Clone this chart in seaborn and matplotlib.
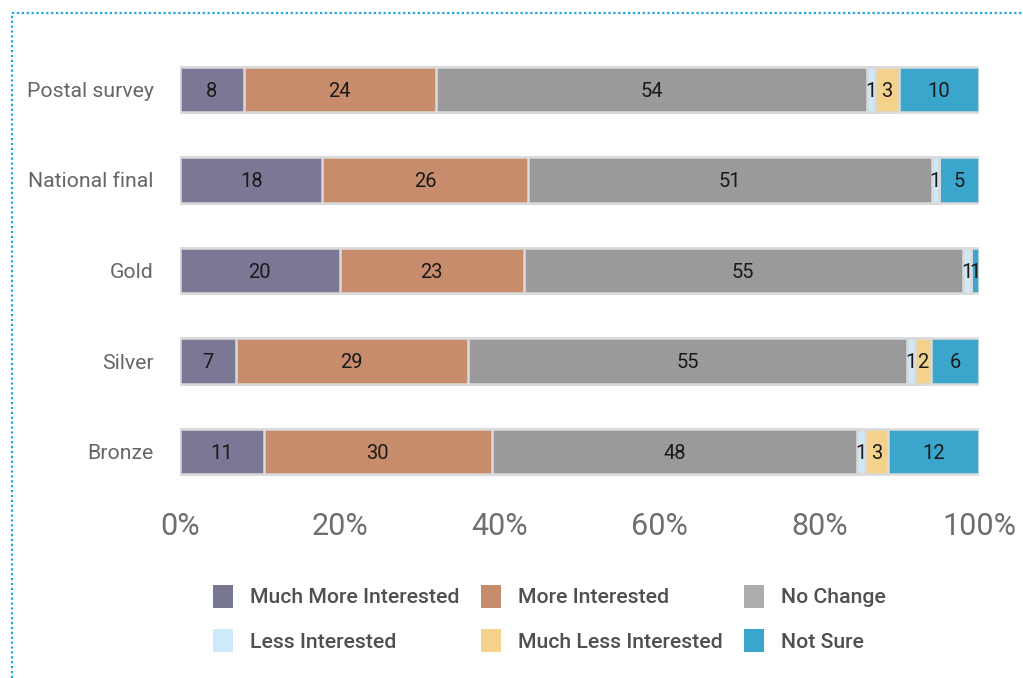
import numpy as np
import pandas as pd
import matplotlib
matplotlib.use("Agg")
import matplotlib.pyplot as plt
import matplotlib.transforms as mtransforms
import seaborn as sns
from matplotlib.patches import Patch
from matplotlib.lines import Line2D

# Survey responses per event (labels as reported)
categories = ["Postal survey", "National final", "Gold", "Silver", "Bronze"]
much_more = [8, 18, 20, 7, 11]
more = [24, 26, 23, 29, 30]
no_change = [54, 51, 55, 55, 48]
less = [1, 1, 1, 1, 1]
much_less = [3, 0, 0, 2, 3]
not_sure = [10, 5, 1, 6, 12]

series_names = ["Much More Interested", "More Interested", "No Change",
                "Less Interested", "Much Less Interested", "Not Sure"]
bar_colors = ["#7a7895", "#c78c6c", "#9a9a9d", "#cde9f8", "#f5d28b", "#3aa6cc"]
legend_colors = ["#777792", "#c68b6c", "#adadb0", "#cdeafa", "#f5d38a", "#3aa6cd"]
tick_values = [0, 20, 40, 60, 80, 100]
tick_labels = ["0%", "20%", "40%", "60%", "80%", "100%"]

df = pd.DataFrame(
    {n: v for n, v in zip(series_names,
                          [much_more, more, no_change, less, much_less, not_sure])},
    index=categories,
)
# Each bar spans 100% of its row
pct = df.div(df.sum(axis=1), axis=0) * 100
cum = pct.cumsum(axis=1)

sns.set_theme(style="white")
plt.rcParams["font.family"] = ["Roboto", "DejaVu Sans"]

fig = plt.figure(figsize=(10.23, 6.78), dpi=100)
ax = fig.add_axes([180 / 1023, 1 - 497 / 678, (979 - 180) / 1023, (497 - 44) / 678])

# Stacked bars: draw cumulative totals from the outermost segment inwards
for i in reversed(range(len(series_names))):
    sns.barplot(x=cum.iloc[:, i].values, y=categories, orient="h",
                color=bar_colors[i], saturation=1, width=0.5,
                edgecolor="#dadada", linewidth=1.8, ax=ax)

# Segment value labels
for r, cat in enumerate(categories):
    left = 0.0
    for name in series_names:
        v = df.loc[cat, name]
        w = pct.loc[cat, name]
        if v > 0:
            ax.text(left + w / 2, r + 0.02, f"{v}", ha="center", va="center",
                    fontsize=14.5, color="#1a1a1a")
        left += w

ax.set_xlim(0, 100)
ax.set_ylim(len(categories) - 0.5, -0.5)
ax.set_xticks(tick_values)
ax.set_xticklabels(tick_labels, fontsize=22, color="#6e6e6e", fontweight="normal")
shift = mtransforms.ScaledTranslation(6 / 100, 0, fig.dpi_scale_trans)
for lbl in ax.get_xticklabels():
    lbl.set_transform(lbl.get_transform() + shift)
ax.tick_params(axis="x", length=0, pad=11)
ax.tick_params(axis="y", length=0, pad=19, labelsize=15.3, labelcolor="#666666")
ax.set_xlabel("")
ax.set_ylabel("")
for s in ax.spines.values():
    s.set_visible(False)

# Legend, three columns, two rows
order = [0, 3, 1, 4, 2, 5]
handles = [Patch(facecolor=legend_colors[k], edgecolor="none", label=series_names[k])
           for k in order]
fig.legend(handles=handles, ncol=3, loc="upper left",
           bbox_to_anchor=(202 / 1023, 1 - 574 / 678), frameon=False, borderpad=0,
           prop={"size": 15.3, "weight": "medium"}, labelcolor="#505050",
           handlelength=0.95, handleheight=1.3, handletextpad=0.8,
           columnspacing=1.0, labelspacing=1.0)

# Dotted frame along the top and left edges
fig.add_artist(Line2D([12 / 1023, 1.0], [1 - 13 / 678, 1 - 13 / 678],
                      transform=fig.transFigure, color="#1ba4e0", lw=1.6,
                      linestyle=(0, (1, 1.2)), dash_capstyle="butt"))
fig.add_artist(Line2D([12 / 1023, 12 / 1023], [0, 1 - 13 / 678],
                      transform=fig.transFigure, color="#1ba4e0", lw=1.6,
                      linestyle=(0, (1, 1.2)), dash_capstyle="butt"))

fig.savefig("out.png", dpi=100)
